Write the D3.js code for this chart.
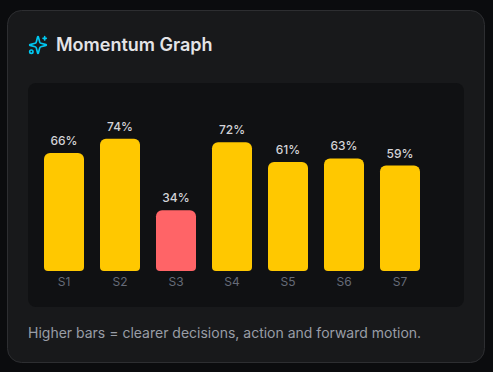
<!DOCTYPE html>
<html>
<head>
<meta charset="utf-8">
<script src="https://cdn.jsdelivr.net/npm/d3@7"></script>
<style>
  html, body { margin: 0; padding: 0; background: #0b0c0e; overflow: hidden; }
  svg { display: block; font-family: Inter, sans-serif; }
</style>
</head>
<body>
<svg id="chart" width="493" height="372"></svg>
<script>
const sessions = ['S1', 'S2', 'S3', 'S4', 'S5', 'S6', 'S7']
const momentum = [66, 74, 34, 72, 61, 63, 59]
const lowLimit = 40
const title = 'Momentum Graph'
const note = 'Higher bars = clearer decisions, action and forward motion.'

const svg = d3.select('#chart')

// card + inner plot panel
svg.append('rect')
    .attr('x', 7.5).attr('y', 10.5)
    .attr('width', 477).attr('height', 352)
    .attr('rx', 14)
    .attr('fill', '#18191b')
    .attr('stroke', '#2d2e31')
svg.append('rect')
    .attr('x', 28).attr('y', 83)
    .attr('width', 436).attr('height', 224)
    .attr('rx', 8)
    .attr('fill', '#101113')

// lucide style sparkles icon
const icon = svg.append('g')
    .attr('transform', 'translate(28,35) scale(0.8333)')
    .attr('fill', 'none')
    .attr('stroke', '#00c8f0')
    .attr('stroke-width', 2)
    .attr('stroke-linecap', 'round')
    .attr('stroke-linejoin', 'round')
icon.append('path').attr('d', 'M9.937 15.5A2 2 0 0 0 8.5 14.063l-6.135-1.582a.5.5 0 0 1 0-.962L8.5 9.936A2 2 0 0 0 9.937 8.5l1.582-6.135a.5.5 0 0 1 .963 0L14.063 8.5A2 2 0 0 0 15.5 9.937l6.135 1.581a.5.5 0 0 1 0 .964L15.5 14.063a2 2 0 0 0-1.437 1.437l-1.582 6.135a.5.5 0 0 1-.963 0z')
icon.append('path').attr('d', 'M20 2v4M22 4h-4')
icon.append('circle').attr('cx', 4).attr('cy', 20).attr('r', 2)

svg.append('text')
    .text(title)
    .attr('x', 56).attr('y', 51)
    .attr('fill', '#e4e4e7')
    .style('font-size', '18px')
    .style('font-weight', 600)

const xScale = d3.scaleBand().domain(sessions)
    .range([36, 428])
    .paddingInner(16 / 56)
    .paddingOuter(8 / 56)
const yScale = d3.scaleLinear().domain([0, 100])
    .range([271, 92.3])

// rounded bar, larger radius on top
const barPath = (s, v) => {
    const x0 = xScale(s), x1 = x0 + xScale.bandwidth()
    const y0 = yScale(v), y1 = yScale(0)
    const rt = 6, rb = 4
    const p = d3.path()
    p.moveTo(x0, y0 + rt)
    p.arcTo(x0, y0, x0 + rt, y0, rt)
    p.lineTo(x1 - rt, y0)
    p.arcTo(x1, y0, x1, y0 + rt, rt)
    p.lineTo(x1, y1 - rb)
    p.arcTo(x1, y1, x1 - rb, y1, rb)
    p.lineTo(x0 + rb, y1)
    p.arcTo(x0, y1, x0, y1 - rb, rb)
    p.closePath()
    return p.toString()
}

const rows = sessions.map((s, i) => ({s: s, v: momentum[i]}))

svg.selectAll('.bar')
    .data(rows)
    .enter().append('path')
    .attr('class', 'bar')
    .attr('d', d => barPath(d.s, d.v))
    .attr('fill', d => d.v < lowLimit ? '#ff6467' : '#ffc800')

svg.selectAll('.value')
    .data(rows)
    .enter().append('text')
    .attr('class', 'value')
    .text(d => d.v + '%')
    .attr('x', d => xScale(d.s) + xScale.bandwidth() / 2)
    .attr('y', d => yScale(d.v) - 8)
    .attr('text-anchor', 'middle')
    .attr('fill', '#d4d4d8')
    .style('font-size', '12px')
    .style('font-weight', 500)

const axis = svg.append('g')
    .attr('transform', 'translate(0,271)')
    .call(d3.axisBottom(xScale).tickSize(0).tickPadding(6))
axis.select('.domain').remove()
axis.selectAll('text')
    .attr('fill', '#666b78')
    .style('font-family', 'Inter, sans-serif')
    .style('font-size', '12px')

svg.append('text')
    .text(note)
    .attr('x', 28).attr('y', 338)
    .attr('fill', '#999da6')
    .style('font-size', '14px')
</script>
</body>
</html>
